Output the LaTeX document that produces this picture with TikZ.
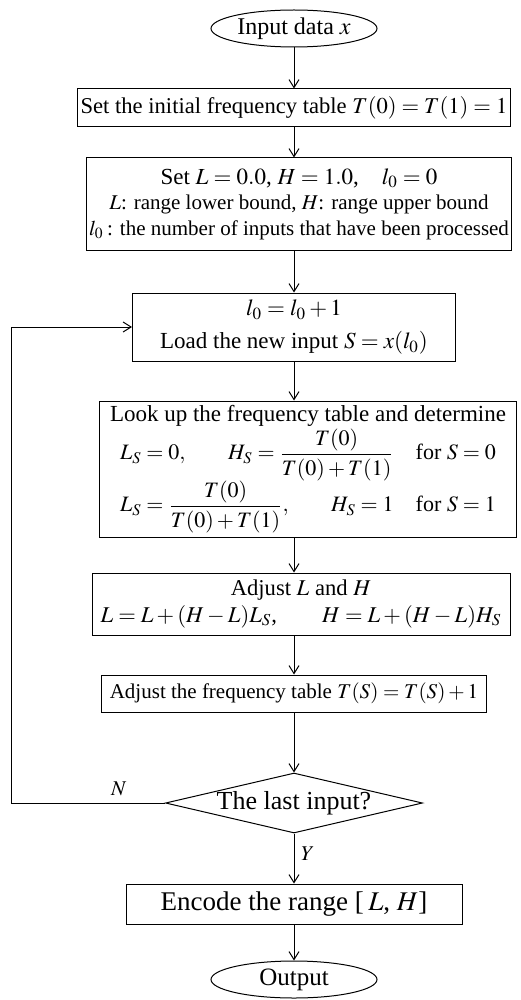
\documentclass[tikz,border=0pt]{standalone}
\usepackage{amsmath}
\usepackage{mathptmx}
\usepackage{fontspec}
\setmainfont{Liberation Serif}
\usetikzlibrary{shapes.geometric,arrows.meta,positioning}

\begin{document}
\begin{tikzpicture}[
  node distance=19.5pt,
  font=\fontsize{10.5}{12.75}\selectfont,
  box/.style={draw, line width=0.5pt, align=center, inner xsep=1.5pt, inner ysep=1pt},
  term/.style={draw, ellipse, line width=0.5pt, inner sep=0pt, minimum width=83pt, minimum height=18.5pt},
  cond/.style={draw, diamond, line width=0.5pt, inner sep=0pt, aspect=4.3, minimum width=128.5pt, minimum height=30pt},
  arr/.style={-{Straight Barb[length=4pt,width=5pt]}, line width=0.5pt}
]
\useasboundingbox (0,0) rectangle (260pt,-500pt);
\node[term, font=\fontsize{12}{14}\selectfont] (input) at (147pt,-14.25pt) {Input data $x$};
\node[box, font=\fontsize{11.3}{13.5}\selectfont, below=20.5pt of input, minimum width=213pt, minimum height=19pt] (init) {Set the initial frequency table $T(0)=T(1)=1$};
\node[box, below=15pt of init, xshift=2.5pt, minimum width=211pt, minimum height=46pt] (setlh) {{\fontsize{11.5}{14}\selectfont Set $L=0.0$, $H=1.0$,\quad $l_0=0$}\\ $L$: range lower bound, $H$: range upper bound\\ $l_0$\,: the number of inputs that have been processed};
\node[box, font=\fontsize{11.5}{14}\selectfont, below=21pt of setlh, xshift=-2.5pt, minimum width=161.5pt, minimum height=34pt] (load) {$l_0=l_0+1$\\[2.5pt] Load the new input $S=x(l_0)$};
\node[box, font=\fontsize{11.5}{14}\selectfont, below=of load, xshift=7pt, minimum width=208.5pt, minimum height=68pt] (lookup) {Look up the frequency table and determine\\
  {\fontsize{11}{13}\selectfont
  \begin{tabular}{@{}l@{\hspace{11pt}}l@{}}
    $L_S=0,\hspace{20pt}H_S=\dfrac{T(0)}{T(0)+T(1)}$ & for $S=0$\\[1pt]
    $L_S=\dfrac{T(0)}{T(0)+T(1)},\hspace{20pt}H_S=1$ & for $S=1$
  \end{tabular}}};
\node[box, font=\fontsize{11.3}{13.5}\selectfont, below=17.5pt of lookup, xshift=-3.5pt, minimum width=209pt, minimum height=31pt] (adjlh) {Adjust $L$ and $H$\\ $L=L+(H-L)L_S$,\qquad $H=L+(H-L)H_S$};
\node[box, below=of adjlh, xshift=-3.5pt, minimum width=192.5pt, minimum height=18.5pt] (adjtab) {Adjust the frequency table $T(S)=T(S)+1$};
\node[cond, font=\fontsize{13}{15}\selectfont, below=30pt of adjtab] (last) {The last input?};
\node[box, font=\fontsize{13.5}{16}\selectfont, below=25pt of last, minimum width=168pt, minimum height=20pt] (encode) {Encode the range [\,$L$, $H$]};
\node[term, font=\fontsize{12.5}{15}\selectfont, below=18pt of encode] (output) {Output};
\coordinate[left=77pt of last.west] (back);

\draw[arr] (input) -- (init);
\draw[arr] (init) -- (init |- setlh.north);
\draw[arr] (setlh.south -| load) -- (load);
\draw[arr] (load) -- (load |- lookup.north);
\draw[arr] (lookup.south -| load) -- (load |- adjlh.north);
\draw[arr] (adjlh.south -| load) -- (adjtab);
\draw[arr] (adjtab) -- (last);
\draw[arr] (last) -- node[right, pos=0.4] {$Y$} (encode);
\draw[arr] (encode) -- (output);
\draw[arr] (last.west) -- node[above, pos=0.3] {$N$} (back) |- (load.west);
\end{tikzpicture}
\end{document}
